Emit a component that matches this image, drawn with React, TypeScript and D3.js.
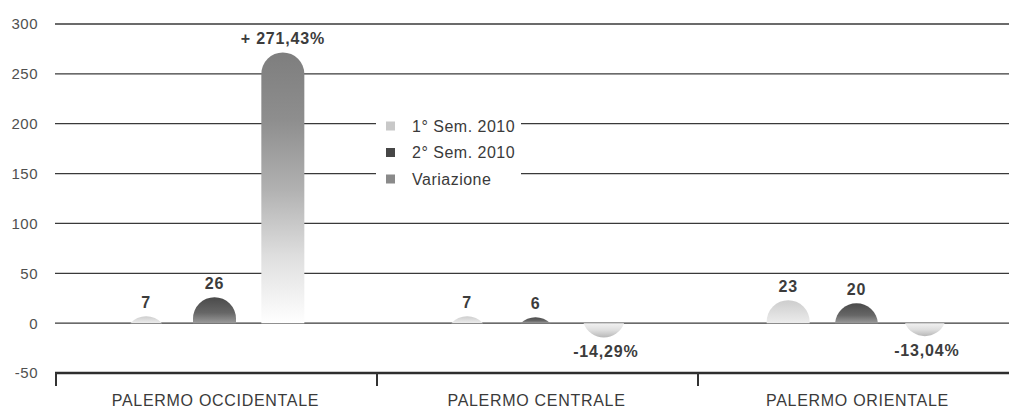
import React from "react";
import * as d3 from "d3";

const categories = ["PALERMO OCCIDENTALE", "PALERMO CENTRALE", "PALERMO ORIENTALE"];
const seriesNames = ["1° Sem. 2010", "2° Sem. 2010", "Variazione"];
const sem1 = [7, 7, 23];
const sem2 = [26, 6, 20];
const variazione = [271.43, -14.29, -13.04];
const sem1Labels = ["7", "7", "23"];
const sem2Labels = ["26", "6", "20"];
const varLabels = ["+ 271,43%", "-14,29%", "-13,04%"];
const yTicks = [300, 250, 200, 150, 100, 50, 0, -50];

const W = 1009;
const H = 410;
const FONT = "'Liberation Sans', Arial, Helvetica, sans-serif";

function barPath(cx: number, w: number, y0: number, yv: number): string {
  const r = w / 2;
  const h = Math.abs(y0 - yv);
  if (h < 0.01) return "";
  const up = yv < y0;
  if (h >= r) {
    if (up) {
      return `M${cx - r},${y0} L${cx - r},${yv + r} A${r},${r} 0 0 1 ${cx + r},${yv + r} L${cx + r},${y0} Z`;
    }
    return `M${cx - r},${y0} L${cx - r},${yv - r} A${r},${r} 0 0 0 ${cx + r},${yv - r} L${cx + r},${y0} Z`;
  }
  const d = r - h;
  const dx = Math.sqrt(r * r - d * d);
  if (up) return `M${cx - dx},${y0} A${r},${r} 0 0 1 ${cx + dx},${y0} Z`;
  return `M${cx - dx},${y0} A${r},${r} 0 0 0 ${cx + dx},${y0} Z`;
}

export default function App() {
  const y = d3.scaleLinear().domain([-50, 300]).range([373, 24]);
  const x = d3.scaleBand<string>().domain(categories).range([55, 1018]);
  const inner = d3.scaleBand<string>().domain(seriesNames).range([57, 262]);
  const barW = 43;
  const y0 = y(0);

  const series = [
    { name: seriesNames[0], values: sem1, labels: sem1Labels, fill: "url(#gSem1)" },
    { name: seriesNames[1], values: sem2, labels: sem2Labels, fill: "url(#gSem2)" },
    { name: seriesNames[2], values: variazione, labels: varLabels, fill: "" },
  ];

  const legendColors = ["#c8c8c8", "#464646", "#8a8a8a"];

  return (
    <div style={{ position: "absolute", left: 0, top: 0 }}>
      <svg width={W} height={H} style={{ display: "block", background: "#fff" }} fontFamily={FONT}>
        <defs>
          <linearGradient id="gSem1" x1="0" y1="0" x2="0" y2="1">
            <stop offset="0" stopColor="#cdcdcd" />
            <stop offset="1" stopColor="#ececec" />
          </linearGradient>
          <linearGradient id="gSem2" x1="0" y1="0" x2="0" y2="1">
            <stop offset="0" stopColor="#4a4a4a" />
            <stop offset="0.6" stopColor="#666" />
            <stop offset="1" stopColor="#9a9a9a" />
          </linearGradient>
          <linearGradient id="gVarPos" x1="0" y1="0" x2="0" y2="1">
            <stop offset="0" stopColor="#7e7e7e" />
            <stop offset="0.25" stopColor="#8e8e8e" />
            <stop offset="0.5" stopColor="#b0b0b0" />
            <stop offset="0.75" stopColor="#dedede" />
            <stop offset="1" stopColor="#ffffff" />
          </linearGradient>
          <linearGradient id="gVarNeg" x1="0" y1="0" x2="0" y2="1">
            <stop offset="0" stopColor="#f2f2f2" />
            <stop offset="0.5" stopColor="#dedede" />
            <stop offset="1" stopColor="#b8b8b8" />
          </linearGradient>
        </defs>

        {/* grid lines */}
        {yTicks.map((t) => (
          <line
            key={t}
            x1={55}
            x2={W}
            y1={y(t)}
            y2={y(t)}
            stroke={t === -50 ? "#2e2e2e" : "#3a3a3a"}
            strokeWidth={t === -50 ? 2.6 : 1.3}
          />
        ))}

        {/* y labels */}
        {yTicks.map((t) => (
          <text
            key={"l" + t}
            x={38}
            y={y(t)}
            dy="0.36em"
            textAnchor="end"
            fontSize={15}
            letterSpacing={0.5}
            fill="#505050"
          >
            {t}
          </text>
        ))}

        {/* axis ticks */}
        {categories.map((c) => (
          <line
            key={"t" + c}
            x1={x(c)! + 1}
            x2={x(c)! + 1}
            y1={373}
            y2={386}
            stroke="#333"
            strokeWidth={2}
          />
        ))}

        {/* category labels */}
        {categories.map((c) => (
          <text
            key={"c" + c}
            x={x(c)! + x.bandwidth() / 2}
            y={406}
            textAnchor="middle"
            fontSize={16}
            letterSpacing={0.7}
            fill="#3a3a3a"
          >
            {c}
          </text>
        ))}

        {/* bars */}
        {series.map((s) =>
          categories.map((c, i) => {
            const v = s.values[i];
            const cx = x(c)! + inner(s.name)! + inner.bandwidth() / 2;
            const yv = y(v);
            const fill = s.fill || (v >= 0 ? "url(#gVarPos)" : "url(#gVarNeg)");
            const labelY = v >= 0 ? yv - 8 : yv + 20;
            return (
              <g key={s.name + c}>
                <path d={barPath(cx, barW, y0, yv)} fill={fill} />
                <text
                  x={cx + (v < 0 ? 2 : 0)}
                  y={labelY}
                  textAnchor="middle"
                  fontSize={16}
                  fontWeight="bold"
                  letterSpacing={0.8}
                  fill="#3c3c3c"
                >
                  {s.labels[i]}
                </text>
              </g>
            );
          })
        )}

        {/* legend */}
        <rect x={376} y={112} width={145} height={80} fill="#fff" />
        {seriesNames.map((n, i) => (
          <g key={"lg" + n} transform={`translate(386, ${126 + i * 26.5})`}>
            <rect x={0} y={-4.5} width={9} height={9} fill={legendColors[i]} />
            <text x={26} y={0} dy="0.36em" fontSize={16} letterSpacing={0.5} fill="#3a3a3a">
              {n}
            </text>
          </g>
        ))}
      </svg>
    </div>
  );
}
